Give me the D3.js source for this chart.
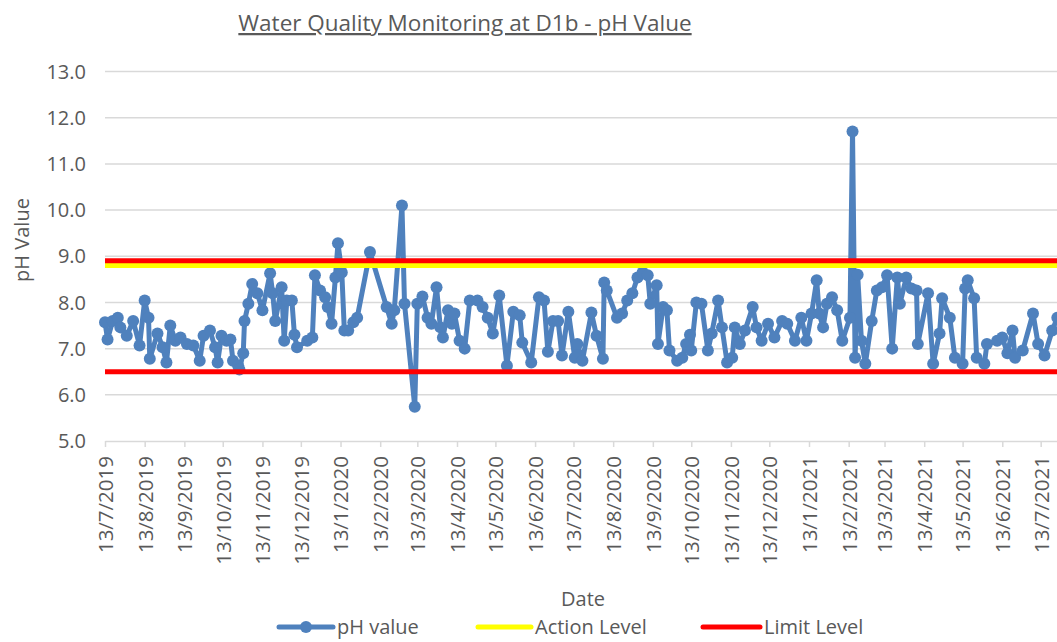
<!DOCTYPE html>
<html>
<head>
<meta charset="utf-8">
<script src="https://cdn.jsdelivr.net/npm/d3@7"></script>
<style>
  body { margin: 0; background: #fff; }
  text { font-family: "Open Sans", sans-serif; fill: #595959; }
</style>
</head>
<body>
<div id="ph_chart"></div>
<script>
// sampling dates
var sampleDates = [
  "2019-07-13","2019-07-15","2019-07-19","2019-07-23","2019-07-25","2019-07-30","2019-08-04","2019-08-09",
  "2019-08-13","2019-08-16","2019-08-17","2019-08-23","2019-08-27","2019-08-30","2019-09-02","2019-09-06",
  "2019-09-10","2019-09-15","2019-09-20","2019-09-25","2019-09-28","2019-10-03","2019-10-07","2019-10-09",
  "2019-10-12","2019-10-16","2019-10-19","2019-10-21","2019-10-25","2019-10-26","2019-10-29","2019-10-30",
  "2019-11-02","2019-11-05","2019-11-09","2019-11-13","2019-11-19","2019-11-21","2019-11-23","2019-11-28",
  "2019-11-30","2019-12-02","2019-12-06","2019-12-08","2019-12-10","2019-12-18","2019-12-22","2019-12-24",
  "2019-12-28","2020-01-01","2020-01-03","2020-01-06","2020-01-09","2020-01-11","2020-01-14","2020-01-16",
  "2020-01-19","2020-01-23","2020-01-26","2020-02-05","2020-02-18","2020-02-22","2020-02-24","2020-03-01",
  "2020-03-03","2020-03-11","2020-03-13","2020-03-17","2020-03-21","2020-03-24","2020-03-28","2020-03-31",
  "2020-04-02","2020-04-06","2020-04-09","2020-04-11","2020-04-15","2020-04-19","2020-04-23","2020-04-29",
  "2020-05-03","2020-05-07","2020-05-11","2020-05-16","2020-05-22","2020-05-27","2020-06-01","2020-06-03",
  "2020-06-10","2020-06-16","2020-06-20","2020-06-23","2020-06-27","2020-07-01","2020-07-04","2020-07-09",
  "2020-07-14","2020-07-16","2020-07-20","2020-07-27","2020-07-31","2020-08-05","2020-08-06","2020-08-08",
  "2020-08-16","2020-08-20","2020-08-24","2020-08-28","2020-09-01","2020-09-05","2020-09-09","2020-09-11",
  "2020-09-16","2020-09-17","2020-09-21","2020-09-24","2020-09-26","2020-10-02","2020-10-06","2020-10-09",
  "2020-10-12","2020-10-13","2020-10-17","2020-10-21","2020-10-26","2020-10-29","2020-11-03","2020-11-06",
  "2020-11-10","2020-11-14","2020-11-16","2020-11-20","2020-11-24","2020-11-30","2020-12-03","2020-12-07",
  "2020-12-12","2020-12-17","2020-12-23","2020-12-27","2021-01-02","2021-01-07","2021-01-11","2021-01-15",
  "2021-01-19","2021-01-21","2021-01-24","2021-01-27","2021-01-31","2021-02-04","2021-02-08","2021-02-14",
  "2021-02-16","2021-02-18","2021-02-20","2021-02-23","2021-02-26","2021-03-03","2021-03-07","2021-03-11",
  "2021-03-15","2021-03-19","2021-03-23","2021-03-25","2021-03-30","2021-04-03","2021-04-07","2021-04-08",
  "2021-04-16","2021-04-20","2021-04-25","2021-04-27","2021-05-03","2021-05-07","2021-05-13","2021-05-15",
  "2021-05-17","2021-05-22","2021-05-24","2021-05-30","2021-06-01","2021-06-09","2021-06-13","2021-06-17",
  "2021-06-21","2021-06-23","2021-06-29","2021-07-07","2021-07-11","2021-07-16","2021-07-22","2021-07-26"
];

// pH readings, same order as sampleDates
var phValues = [
  7.57,7.20,7.60,7.67,7.46,7.28,7.60,7.07,
  8.04,7.67,6.78,7.33,7.03,6.70,7.50,7.17,
  7.24,7.10,7.07,6.74,7.28,7.39,7.03,6.70,
  7.28,7.17,7.20,6.74,6.63,6.55,6.90,7.60,
  7.97,8.40,8.20,7.83,8.63,8.20,7.60,8.33,
  7.17,8.04,8.04,7.30,7.03,7.17,7.24,8.59,
  8.26,8.11,7.90,7.54,8.54,9.28,8.65,7.39,
  7.39,7.57,7.67,9.09,7.90,7.54,7.83,10.10,
  7.97,5.74,7.97,8.13,7.67,7.54,8.33,7.46,
  7.24,7.83,7.54,7.76,7.17,7.00,8.04,8.04,
  7.90,7.67,7.33,8.15,6.63,7.80,7.72,7.13,
  6.70,8.11,8.04,6.93,7.60,7.60,6.85,7.80,
  6.80,7.10,6.74,7.78,7.28,6.78,8.43,8.26,
  7.67,7.76,8.04,8.20,8.54,8.65,8.59,7.97,
  8.37,7.10,7.90,7.83,6.96,6.74,6.80,7.10,
  7.30,6.96,8.00,7.97,6.96,7.33,8.04,7.46,
  6.70,6.80,7.46,7.10,7.39,7.90,7.46,7.17,
  7.54,7.24,7.60,7.54,7.17,7.67,7.17,7.76,
  8.48,7.76,7.46,7.97,8.11,7.83,7.17,7.67,
  11.70,6.80,8.60,7.17,6.67,7.60,8.26,8.33,
  8.59,7.00,8.54,7.97,8.54,8.30,8.26,7.10,
  8.20,6.67,7.33,8.09,7.67,6.80,6.67,8.30,
  8.48,8.09,6.80,6.67,7.10,7.17,7.24,6.90,
  7.39,6.80,6.96,7.76,7.10,6.85,7.39,7.67
];

var actionLevel = 8.8;
var limitLevels = [8.9, 6.5];
var yTicks = [5, 6, 7, 8, 9, 10, 11, 12, 13];
var legendNames = ["pH value", "Action Level", "Limit Level"];

var chartWidth = 1057, chartHeight = 642;
var plot = {left: 105, right: 1057, top: 71.5, bottom: 441};

var parseDate = d3.timeParse("%Y-%m-%d");
var data = sampleDates.map(function(d, i) { return {date: parseDate(d), ph: phValues[i]}; });

var svg = d3.select("#ph_chart")
  .append("svg")
    .attr("width", chartWidth)
    .attr("height", chartHeight);

// Title
svg.append("text")
  .attr("x", 465)
  .attr("y", 31)
  .attr("text-anchor", "middle")
  .style("font-size", "22.5px")
  .style("text-decoration", "underline")
  .text("Water Quality Monitoring at D1b - pH Value");

// Scales
var x = d3.scaleTime()
  .domain([parseDate("2019-07-13"), d3.timeHour.offset(parseDate("2021-07-25"), 18)])
  .range([plot.left, plot.right]);

var y = d3.scaleLinear()
  .domain([5, 13])
  .range([plot.bottom, plot.top]);

// Gridlines
svg.append("g")
  .selectAll("line")
  .data(yTicks.slice(1))
  .enter()
  .append("line")
    .attr("x1", plot.left)
    .attr("x2", plot.right)
    .attr("y1", function(d) { return y(d); })
    .attr("y2", function(d) { return y(d); })
    .attr("stroke", "#d9d9d9")
    .attr("stroke-width", 1.5);

// Y axis labels
svg.append("g")
  .selectAll("text")
  .data(yTicks)
  .enter()
  .append("text")
    .attr("x", 86)
    .attr("y", function(d) { return y(d); })
    .attr("dy", "0.36em")
    .attr("text-anchor", "end")
    .style("font-size", "20px")
    .text(d3.format(".1f"));

// X axis: ticks on the 13th of each month
var monthTicks = d3.timeMonths(parseDate("2019-07-01"), parseDate("2021-08-01"))
  .map(function(d) { return d3.timeDay.offset(d, 12); });

var xAxis = svg.append("g")
  .attr("transform", "translate(0," + plot.bottom + ")")
  .call(d3.axisBottom(x)
    .tickValues(monthTicks)
    .tickFormat(d3.timeFormat("%-d/%-m/%Y"))
    .tickSize(6)
    .tickSizeOuter(0));

xAxis.select(".domain").attr("stroke", "#d9d9d9").attr("stroke-width", 1.5);
xAxis.selectAll(".tick line").attr("stroke", "#d9d9d9").attr("stroke-width", 1.5);
xAxis.selectAll(".tick text")
  .attr("transform", "rotate(-90)")
  .attr("text-anchor", "end")
  .attr("x", -15)
  .attr("y", 0)
  .attr("dy", "0.36em")
  .attr("fill", "#595959")
  .style("font-size", "20.5px")
  .style("font-family", "'Open Sans', sans-serif");

// Axis titles
svg.append("text")
  .attr("text-anchor", "middle")
  .attr("transform", "translate(29,240) rotate(-90)")
  .style("font-size", "20px")
  .text("pH Value");

svg.append("text")
  .attr("text-anchor", "middle")
  .attr("x", 583)
  .attr("y", 606)
  .style("font-size", "20px")
  .text("Date");

// pH series
var line = d3.line()
  .x(function(d) { return x(d.date); })
  .y(function(d) { return y(d.ph); });

svg.append("path")
  .datum(data)
  .attr("fill", "none")
  .attr("stroke", "#4f81bd")
  .attr("stroke-width", 5)
  .attr("stroke-linejoin", "round")
  .attr("d", line);

svg.append("g")
  .selectAll("circle")
  .data(data)
  .enter()
  .append("circle")
    .attr("cx", function(d) { return x(d.date); })
    .attr("cy", function(d) { return y(d.ph); })
    .attr("r", 6)
    .attr("fill", "#4f81bd");

// Action level, then limit levels on top
svg.append("line")
  .attr("x1", plot.left)
  .attr("x2", plot.right)
  .attr("y1", y(actionLevel))
  .attr("y2", y(actionLevel))
  .attr("stroke", "#ffff00")
  .attr("stroke-width", 5);

svg.append("g")
  .selectAll("line")
  .data(limitLevels)
  .enter()
  .append("line")
    .attr("x1", plot.left)
    .attr("x2", plot.right)
    .attr("y1", function(d) { return y(d); })
    .attr("y2", function(d) { return y(d); })
    .attr("stroke", "#ff0000")
    .attr("stroke-width", 5);

// Legend
var legendItems = [
  {name: legendNames[0], color: "#4f81bd", x0: 279, x1: 333, marker: true},
  {name: legendNames[1], color: "#ffff00", x0: 478, x1: 531, marker: false},
  {name: legendNames[2], color: "#ff0000", x0: 703, x1: 760, marker: false}
];

var legend = svg.append("g")
  .selectAll("g")
  .data(legendItems)
  .enter()
  .append("g");

legend.append("line")
  .attr("x1", function(d) { return d.x0; })
  .attr("x2", function(d) { return d.x1; })
  .attr("y1", 627)
  .attr("y2", 627)
  .attr("stroke", function(d) { return d.color; })
  .attr("stroke-width", 5)
  .attr("stroke-linecap", "round");

legend.filter(function(d) { return d.marker; })
  .append("circle")
  .attr("cx", function(d) { return (d.x0 + d.x1) / 2; })
  .attr("cy", 627)
  .attr("r", 6)
  .attr("fill", function(d) { return d.color; });

legend.append("text")
  .attr("x", function(d) { return d.x1 + 4; })
  .attr("y", 627)
  .attr("dy", "0.36em")
  .style("font-size", "20px")
  .text(function(d) { return d.name; });
</script>
</body>
</html>
